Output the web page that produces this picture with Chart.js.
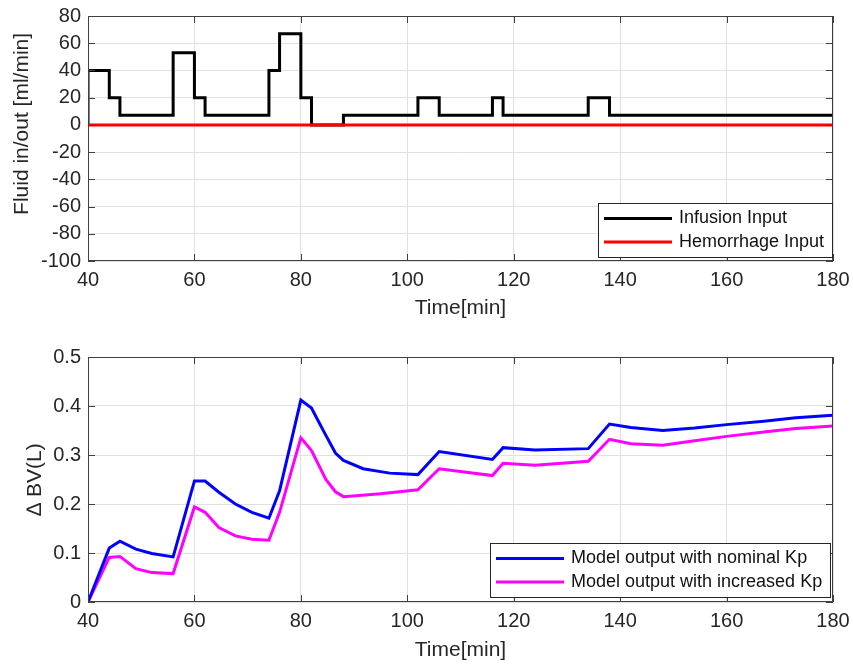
<!DOCTYPE html>
<html lang="en">
<head>
    <meta charset="UTF-8">
    <title>Fluid input and blood volume response</title>
    <script src="https://cdn.jsdelivr.net/npm/chart.js"></script>
    <style>
        body { margin: 0; background: #fff; }
        canvas { display: block; }
    </style>
</head>
<body>
    <canvas id="fluidChart" width="853" height="332"></canvas>
    <canvas id="bvChart" width="853" height="333"></canvas>

    <script>
        // --- data ---
        // infusion is a step signal: each value holds until the next time
        var infusionTime = [40, 40, 44, 46, 56, 60, 62, 74, 76, 80, 82, 88, 102, 106, 116, 118, 134, 138, 180];
        var infusionRate = [0, 40, 20, 7, 53, 20, 7, 40, 67, 20, 0, 7, 20, 7, 20, 7, 20, 7, 7];

        var hemorrhageTime = [40, 180];
        var hemorrhageRate = [0, 0];

        var nominalTime = [40, 44, 46, 49, 52, 56, 60, 62, 64.6, 67.7, 70.8, 74, 76, 80, 82, 83, 84.6, 86.5, 88,
                           91.7, 96.7, 102, 106, 116, 118, 124, 134, 138, 142, 148, 154, 160, 167, 173, 180];
        var nominalBV = [0, 0.110, 0.124, 0.108, 0.099, 0.092, 0.247, 0.247, 0.224, 0.200, 0.183, 0.171, 0.227, 0.412, 0.396, 0.375, 0.342, 0.304, 0.289,
                         0.272, 0.263, 0.260, 0.307, 0.291, 0.315, 0.310, 0.313, 0.363, 0.356, 0.350, 0.355, 0.362, 0.369, 0.376, 0.381];

        var increasedTime = [40, 44, 46, 49, 52, 56, 60, 62, 64.6, 67.7, 70.8, 74, 76, 80, 82, 84.7, 86.5, 88,
                             95, 102, 106, 116, 118, 124, 134, 138, 142, 148, 154, 160, 167, 173, 180];
        var increasedBV = [0, 0.091, 0.093, 0.068, 0.060, 0.058, 0.194, 0.183, 0.152, 0.135, 0.128, 0.126, 0.183, 0.335, 0.309, 0.250, 0.225, 0.215,
                           0.221, 0.229, 0.272, 0.258, 0.283, 0.279, 0.287, 0.332, 0.323, 0.320, 0.329, 0.338, 0.347, 0.354, 0.359];

        var timeTicks = { min: 40, max: 180, step: 20 };

        var FONT = '"Liberation Sans", Arial, sans-serif';
        var INK = '#262626';

        function points(xs, ys) {
            return xs.map(function(x, i) { return { x: x, y: ys[i] }; });
        }

        // fixed axis size, and no extra room for the end labels (layout padding decides)
        function fixSize(prop, size) {
            return function(s) {
                s[prop] = size;
                s.paddingLeft = s.paddingRight = s.paddingTop = s.paddingBottom = 0;
            };
        }

        // box around the plot area with inward tick marks (matlab style)
        var framePlugin = {
            id: 'frame',
            afterDraw: function(chart) {
                var ctx = chart.ctx, a = chart.chartArea;
                var xs = chart.scales.x, ys = chart.scales.y;
                ctx.save();
                ctx.strokeStyle = '#404040';
                ctx.lineWidth = 1;
                ctx.strokeRect(Math.round(a.left) + 0.5, Math.round(a.top) + 0.5,
                               Math.round(a.right - a.left) - 1, Math.round(a.bottom - a.top) - 1);
                ctx.beginPath();
                xs.ticks.forEach(function(t) {
                    var px = Math.round(xs.getPixelForValue(t.value)) + 0.5;
                    ctx.moveTo(px, a.bottom); ctx.lineTo(px, a.bottom - 7);
                    ctx.moveTo(px, a.top); ctx.lineTo(px, a.top + 7);
                });
                ys.ticks.forEach(function(t) {
                    var py = Math.round(ys.getPixelForValue(t.value)) + 0.5;
                    ctx.moveTo(a.left, py); ctx.lineTo(a.left + 7, py);
                    ctx.moveTo(a.right, py); ctx.lineTo(a.right - 7, py);
                });
                ctx.stroke();
                ctx.restore();
            }
        };

        // legend box drawn inside the lower right corner of the plot area
        // opts.order lists dataset indexes in legend order
        var insideLegend = {
            id: 'insideLegend',
            afterDraw: function(chart, args, opts) {
                var ctx = chart.ctx, a = chart.chartArea;
                var sets = (opts.order || [0, 1]).map(function(i) { return chart.data.datasets[i]; });
                ctx.save();
                ctx.font = '18px ' + FONT;
                var textW = 0;
                sets.forEach(function(d) { textW = Math.max(textW, ctx.measureText(d.label).width); });
                var w = Math.round(6 + 68 + 7 + textW + 8), h = 54;
                var x0 = Math.round(a.right - opts.right - w), y0 = Math.round(a.bottom - opts.bottom - h);
                ctx.fillStyle = '#fff';
                ctx.fillRect(x0, y0, w, h);
                ctx.strokeStyle = INK;
                ctx.lineWidth = 1;
                ctx.strokeRect(x0 + 0.5, y0 + 0.5, w, h);
                sets.forEach(function(d, i) {
                    var y = y0 + 15.5 + i * 23.5;
                    ctx.strokeStyle = d.borderColor;
                    ctx.lineWidth = 3;
                    ctx.beginPath();
                    ctx.moveTo(x0 + 6, y);
                    ctx.lineTo(x0 + 74, y);
                    ctx.stroke();
                    ctx.fillStyle = '#111';
                    ctx.textBaseline = 'middle';
                    ctx.fillText(d.label, x0 + 81, y);
                });
                ctx.restore();
            }
        };

        function timeAxis(axisHeight, titleBottom) {
            return {
                type: 'linear',
                min: timeTicks.min,
                max: timeTicks.max,
                ticks: { stepSize: timeTicks.step, autoSkip: false, color: INK, font: { family: FONT, size: 20 }, padding: 7 },
                grid: { color: '#e0e0e0', drawTicks: false },
                border: { display: false },
                title: { display: true, text: 'Time[min]', color: INK, font: { family: FONT, size: 21 },
                         padding: { top: 0, bottom: titleBottom } },
                afterFit: fixSize('height', axisHeight)
            };
        }

        Chart.defaults.font.family = FONT;

        new Chart(document.getElementById('fluidChart'), {
            type: 'line',
            data: {
                datasets: [{
                    label: 'Hemorrhage Input',
                    data: points(hemorrhageTime, hemorrhageRate),
                    borderColor: '#ff0000',
                    borderWidth: 3,
                    pointRadius: 0
                }, {
                    label: 'Infusion Input',
                    data: points(infusionTime, infusionRate),
                    borderColor: '#000000',
                    borderWidth: 3,
                    stepped: 'before',
                    pointRadius: 0
                }]
            },
            options: {
                responsive: false,
                animation: false,
                devicePixelRatio: 1,
                layout: { padding: { top: 16, right: 20, left: 0, bottom: 0 } },
                plugins: {
                    legend: { display: false },
                    tooltip: { enabled: false },
                    insideLegend: { right: 1, bottom: 4, order: [1, 0] }
                },
                scales: {
                    x: timeAxis(71, 11),
                    y: {
                        min: -100,
                        max: 80,
                        ticks: { stepSize: 20, autoSkip: false, color: INK, font: { family: FONT, size: 20 }, padding: 7 },
                        grid: { color: '#e0e0e0', drawTicks: false },
                        border: { display: false },
                        title: { display: true, text: '\u00a0\u00a0\u00a0\u00a0\u00a0Fluid in/out [ml/min]', color: INK,
                                 font: { family: FONT, size: 21 }, padding: { top: 10, bottom: 0 } },
                        afterFit: fixSize('width', 88)
                    }
                }
            },
            plugins: [framePlugin, insideLegend]
        });

        new Chart(document.getElementById('bvChart'), {
            type: 'line',
            data: {
                datasets: [{
                    label: 'Model output with nominal Kp',
                    data: points(nominalTime, nominalBV),
                    borderColor: '#0000ff',
                    borderWidth: 3,
                    pointRadius: 0
                }, {
                    label: 'Model output with increased Kp',
                    data: points(increasedTime, increasedBV),
                    borderColor: '#ff00ff',
                    borderWidth: 3,
                    pointRadius: 0
                }]
            },
            options: {
                responsive: false,
                animation: false,
                devicePixelRatio: 1,
                layout: { padding: { top: 25, right: 20, left: 0, bottom: 0 } },
                plugins: {
                    legend: { display: false },
                    tooltip: { enabled: false },
                    insideLegend: { right: 3, bottom: 5, order: [0, 1] }
                },
                scales: {
                    x: timeAxis(63, 2),
                    y: {
                        min: 0,
                        max: 0.5,
                        ticks: { stepSize: 0.1, autoSkip: false, color: INK, font: { family: FONT, size: 20 }, padding: 7 },
                        grid: { color: '#e0e0e0', drawTicks: false },
                        border: { display: false },
                        title: { display: true, text: '\u2206 BV(L)', color: INK,
                                 font: { family: FONT, size: 21 }, padding: { top: 23, bottom: 0 } },
                        afterFit: fixSize('width', 88)
                    }
                }
            },
            plugins: [framePlugin, insideLegend]
        });
    </script>
</body>
</html>
